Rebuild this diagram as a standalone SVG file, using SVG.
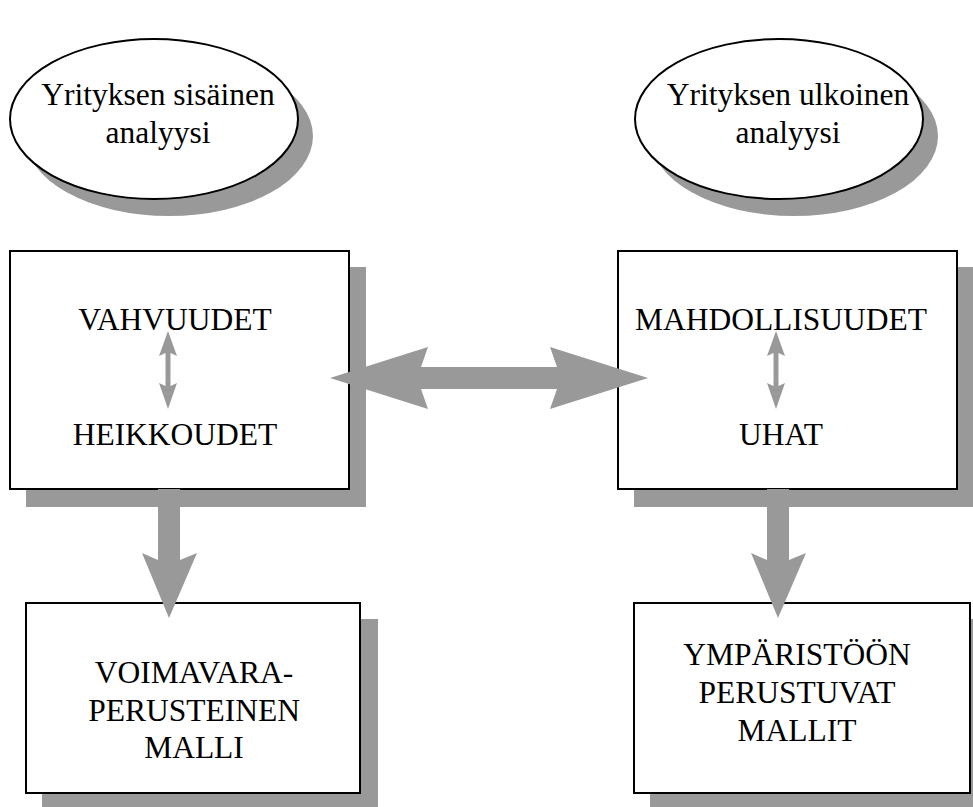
<svg xmlns="http://www.w3.org/2000/svg" width="973" height="807" viewBox="0 0 973 807">
<style>
.shadow{fill:#999999;stroke:none}
.node{fill:#ffffff;stroke:#000000;stroke-width:2}
.arrow{fill:#999999;stroke:none}
text{font-family:"Liberation Serif","Times New Roman",serif;font-size:31.5px;fill:#000000;text-anchor:middle}
</style>
<rect width="973" height="807" fill="#ffffff"/>
<g id="ellipse-internal">
<ellipse class="shadow" cx="169" cy="136" rx="144" ry="80"/>
<ellipse class="node" cx="154" cy="119" rx="144" ry="80"/>
<text x="158" y="105">Yrityksen sisäinen</text>
<text x="158" y="143">analyysi</text>
</g>
<g id="ellipse-external">
<ellipse class="shadow" cx="794" cy="136" rx="144" ry="80"/>
<ellipse class="node" cx="779" cy="119" rx="144" ry="80"/>
<text x="788" y="105">Yrityksen ulkoinen</text>
<text x="788" y="143">analyysi</text>
</g>
<g id="box-strengths">
<rect class="shadow" x="26" y="267" width="340" height="240"/>
<rect class="node" x="10" y="251" width="339" height="238"/>
<text x="175" y="330">VAHVUUDET</text>
<text x="175" y="445">HEIKKOUDET</text>
<path class="arrow" d="M168,331 L177,356 L170.5,353 L170.5,386 L177,383 L168,409 L159,383 L165.5,386 L165.5,353 L159,356 Z"/>
</g>
<g id="box-opportunities">
<rect class="shadow" x="634" y="267" width="345" height="240"/>
<rect class="node" x="618" y="251" width="339" height="238"/>
<text x="781" y="330">MAHDOLLISUUDET</text>
<text x="781" y="445">UHAT</text>
<path class="arrow" d="M776,331 L785,356 L778.5,353 L778.5,386 L785,383 L776,409 L767,383 L773.5,386 L773.5,353 L767,356 Z"/>
</g>
<g id="box-resource">
<rect class="shadow" x="42" y="619" width="336" height="195"/>
<rect class="node" x="26" y="603" width="334" height="190"/>
<text x="194" y="683">VOIMAVARA-</text>
<text x="194" y="721">PERUSTEINEN</text>
<text x="194" y="758">MALLI</text>
</g>
<g id="box-environment">
<rect class="shadow" x="650" y="619" width="340" height="195"/>
<rect class="node" x="634" y="603" width="336" height="190"/>
<text x="797" y="665">YMPÄRISTÖÖN</text>
<text x="797" y="703">PERUSTUVAT</text>
<text x="797" y="741">MALLIT</text>
</g>
<g id="connectors">
<path class="arrow" d="M330,378 L428,347 L421,367 L557,367 L550,347 L648,378 L550,409 L557,389 L421,389 L428,409 Z"/>
<path class="arrow" d="M158,489 L180,489 L180,560 L197,553 L169,618 L142,553 L158,560 Z"/>
<path class="arrow" d="M767,489 L789,489 L789,560 L806,553 L778,618 L751,553 L767,560 Z"/>
</g>
</svg>
